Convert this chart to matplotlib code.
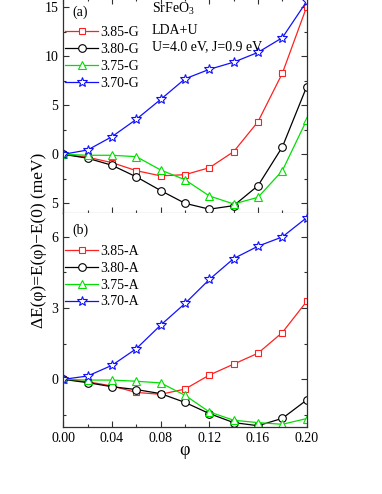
import numpy as np
import matplotlib
matplotlib.use("Agg")
import matplotlib.pyplot as plt
from matplotlib.ticker import MultipleLocator, FixedLocator, FixedFormatter

plt.rcParams['font.family'] = ['Liberation Serif', 'DejaVu Serif']
plt.rcParams['mathtext.fontset'] = 'custom'
plt.rcParams['mathtext.rm'] = 'Liberation Serif'

# phi values
phi = [0.00, 0.02, 0.04, 0.06, 0.08, 0.10, 0.12, 0.14, 0.16, 0.18, 0.20]

# (a) G-type, energies in meV
g_385 = [0.0, -0.3, -0.85, -1.67, -2.2, -2.08, -1.37, 0.27, 3.33, 8.27, 15.06]
g_380 = [0.0, -0.4, -1.12, -2.3, -3.7, -5.0, -5.6, -5.24, -3.2, 0.75, 6.9]
g_375 = [0.0, -0.1, -0.1, -0.24, -1.6, -2.6, -4.25, -5.07, -4.39, -1.67, 3.5]
g_370 = [0.0, 0.44, 1.8, 3.57, 5.6, 7.7, 8.67, 9.4, 10.4, 11.9, 15.6]

# (b) A-type, energies in meV
a_385 = [0.0, -0.1, -0.28, -0.55, -0.63, -0.41, 0.18, 0.64, 1.1, 1.97, 3.28]
a_380 = [0.0, -0.14, -0.31, -0.43, -0.6, -0.97, -1.44, -1.82, -1.95, -1.64, -0.87]
a_375 = [0.0, -0.03, -0.03, -0.08, -0.15, -0.67, -1.37, -1.72, -1.82, -1.89, -1.65]
a_370 = [0.0, 0.14, 0.59, 1.29, 2.28, 3.19, 4.2, 5.08, 5.6, 5.99, 6.8]

labels = ['3.85', '3.80', '3.75', '3.70']
colors = ['#ff2020', 'black', '#00e000', '#1010ff']
markers = ['s', 'o', '^', '*']
msizes = [5.0, 5.5, 6.0, 7.5]

W, H = 382, 494
fig = plt.figure(figsize=(W / 100, H / 100), dpi=100)

x0, x1 = 63.3, 306.7
# pixel rows of the panel frames
ya_top, ya_bot = -2.5, 213.1
yb_top, yb_bot = 212.9, 426.9

ax1 = fig.add_axes([x0 / W, 1 - ya_bot / H, (x1 - x0) / W, (ya_bot - ya_top) / H])
ax2 = fig.add_axes([x0 / W, 1 - yb_bot / H, (x1 - x0) / W, (yb_bot - yb_top) / H])

spine_col = '#303030'


def style(ax):
    ax.set_xlim(0, 0.2)
    ax.xaxis.set_major_locator(MultipleLocator(0.04))
    ax.xaxis.set_minor_locator(MultipleLocator(0.02))
    ax.tick_params(which='both', direction='in', top=True, right=True,
                   labelsize=10, colors=spine_col, labelcolor='black')
    ax.tick_params(which='major', length=4, width=0.8)
    ax.tick_params(which='minor', length=2.5, width=0.8)
    for s in ax.spines.values():
        s.set_color(spine_col)
        s.set_linewidth(0.9)


def draw(ax, series, suffix):
    for y, lab, c, m, ms in zip(series, labels, colors, markers, msizes):
        ax.plot(phi, y, color=c, lw=0.9, marker=m, ms=ms, mfc='white',
                mec=c, mew=0.8, label=lab + suffix)


draw(ax1, [g_385, g_380, g_375, g_370], '-G')
draw(ax2, [a_385, a_380, a_375, a_370], '-A')

style(ax1)
style(ax2)

ax1.set_ylim(-6, 16)
ax1.yaxis.set_major_locator(FixedLocator([-5, 0, 5, 10, 15]))
ax1.yaxis.set_major_formatter(FixedFormatter(['5', '0', '5', '10', '15']))
ax1.yaxis.set_minor_locator(MultipleLocator(2.5))
ax1.tick_params(labelbottom=False)
ax1.spines['bottom'].set_color('#b0b0b0')

ax2.set_ylim(-2, 7)
ax2.yaxis.set_major_locator(MultipleLocator(3))
ax2.yaxis.set_minor_locator(MultipleLocator(1.5))
ax2.spines['top'].set_visible(False)
ax2.tick_params(top=False, which='both')
ax2.xaxis.set_major_formatter(plt.FuncFormatter(lambda v, p: f'{v:.2f}'))

leg_kw = dict(frameon=False, fontsize=10, handlelength=2.4, handletextpad=0.15,
              labelspacing=0.28, borderpad=0, borderaxespad=0, loc='upper left')
ax1.legend(bbox_to_anchor=(0.007, 0.868), **leg_kw)
ax2.legend(bbox_to_anchor=(0.007, 0.851), **leg_kw)

ax1.text(0.037, 0.930, '(a)', transform=ax1.transAxes, fontsize=10, va='center')
ax2.text(0.037, 0.920, '(b)', transform=ax2.transAxes, fontsize=10, va='center')

ax1.text(0.364, 0.930, r'SrFeO$_3$', transform=ax1.transAxes, fontsize=10,
         va='baseline')
ax1.text(0.364, 0.831, 'LDA+U', transform=ax1.transAxes, fontsize=10, va='baseline')
ax1.text(0.364, 0.756, 'U=4.0 eV, J=0.9 eV', transform=ax1.transAxes, fontsize=10,
         va='baseline')

fig.text(39 / W, 1 - 240 / H, 'ΔE(φ)=E(φ)−E(0) (meV)', rotation=90, fontsize=12.5,
         ha='center', va='center')
fig.text(185 / W, 1 - 450 / H, 'φ', fontsize=13, ha='center', va='center')

fig.savefig('out.png', dpi=100)
